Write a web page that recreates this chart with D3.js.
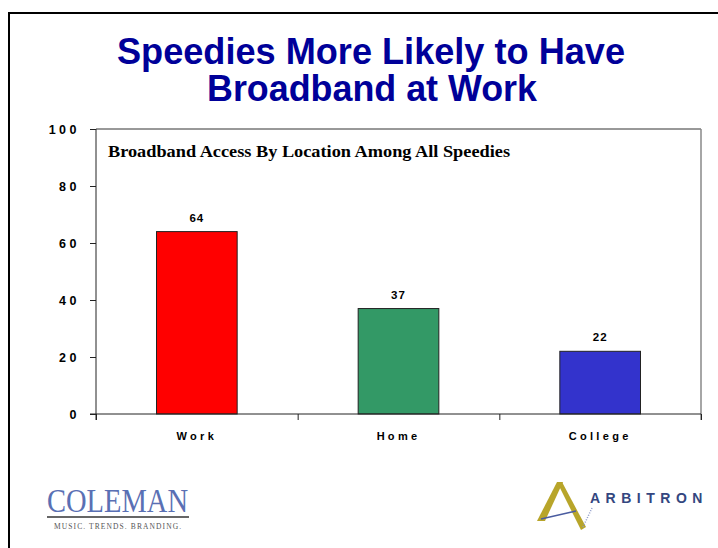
<!DOCTYPE html>
<html>
<head>
<meta charset="utf-8">
<script src="https://cdn.jsdelivr.net/npm/d3@7"></script>
<style>
  body { margin: 0; background: #fff; }
  svg { display: block; }
  .tick text { font-family: "Liberation Sans", Arial, sans-serif; font-weight: bold; fill: #000; }
</style>
</head>
<body>
<div id="chart"></div>
<script>
const categories = ["Work", "Home", "College"];
const values = [64, 37, 22];
const barColors = ["#ff0000", "#339966", "#3333cc"];
const yTicks = [0, 20, 40, 60, 80, 100];

const width = 718;
const height = 548;

const svg = d3.select("#chart")
              .append("svg")
              .attr("width", width)
              .attr("height", height);

// outer frame
svg.append("path")
   .attr("d", "M9,548 V13 H718")
   .attr("fill", "none")
   .attr("stroke", "#000")
   .attr("stroke-width", 2);

// Titles (squeezed to mimic the narrow bold face)
const title = svg.append("text")
                 .attr("text-anchor", "middle")
                 .attr("fill", "#000099")
                 .style("font-family", "'Liberation Sans Narrow', 'Liberation Sans', Arial, sans-serif")
                 .style("font-weight", "bold")
                 .style("font-size", "36px");
title.append("tspan").attr("x", 371).attr("y", 64)
     .attr("textLength", 508).attr("lengthAdjust", "spacingAndGlyphs")
     .text("Speedies More Likely to Have");
title.append("tspan").attr("x", 372).attr("y", 101)
     .attr("textLength", 330).attr("lengthAdjust", "spacingAndGlyphs")
     .text("Broadband at Work");

// plot area
const plotLeft = 96, plotRight = 701, plotTop = 129, plotBottom = 414;

const y = d3.scaleLinear()
            .domain([0, 100])
            .range([plotBottom, plotTop]);

const x = d3.scaleBand()
            .domain(categories)
            .range([plotLeft, plotRight])
            .paddingInner(0.6)
            .paddingOuter(0.3);

const xEdge = d3.scaleLinear()
                .domain([0, categories.length])
                .range([plotLeft, plotRight]);

// top + right border of plot
svg.append("line")
   .attr("x1", plotLeft).attr("x2", plotRight)
   .attr("y1", plotTop).attr("y2", plotTop)
   .attr("stroke", "#333");
svg.append("line")
   .attr("x1", plotRight).attr("x2", plotRight)
   .attr("y1", plotTop).attr("y2", plotBottom + 6)
   .attr("stroke", "#888").attr("stroke-width", 1.5);

svg.append("text")
   .attr("x", 108)
   .attr("y", 157)
   .style("font-family", "'Liberation Serif', 'Times New Roman', serif")
   .style("font-weight", "bold")
   .style("font-size", "17px")
   .attr("textLength", 402)
   .attr("lengthAdjust", "spacingAndGlyphs")
   .text("Broadband Access By Location Among All Speedies");

// bars
svg.selectAll("rect.bar")
   .data(values)
   .enter()
   .append("rect")
   .attr("class", "bar")
   .attr("x", (d, i) => x(categories[i]))
   .attr("y", d => y(d))
   .attr("width", x.bandwidth())
   .attr("height", d => y(0) - y(d))
   .attr("fill", (d, i) => barColors[i])
   .attr("stroke", "#222")
   .attr("stroke-width", 1);

svg.selectAll("text.val")
   .data(values)
   .enter()
   .append("text")
   .attr("class", "val")
   .attr("x", (d, i) => x(categories[i]) + x.bandwidth() / 2)
   .attr("y", d => y(d) - 10)
   .attr("text-anchor", "middle")
   .style("font-family", "'Liberation Sans', Arial, sans-serif")
   .style("font-weight", "bold")
   .style("font-size", "11.5px")
   .style("letter-spacing", "1px")
   .text(d => d);

// axes
const yAxis = d3.axisLeft(y).tickValues(yTicks).tickSize(6).tickPadding(10);
const gy = svg.append("g")
              .attr("transform", "translate(" + plotLeft + ",0)")
              .call(yAxis);
gy.select(".domain").attr("stroke", "#222").attr("d", "M0," + plotTop + "V" + (plotBottom + 6));
gy.selectAll(".tick line").attr("stroke", "#222");
gy.selectAll(".tick text")
  .style("font-size", "12.5px")
  .style("letter-spacing", "3.5px");

const gx = svg.append("g")
              .attr("transform", "translate(0," + plotBottom + ")")
              .call(d3.axisBottom(xEdge).tickValues([0, 1, 2, 3]).tickSize(6).tickFormat(""));
gx.select(".domain").attr("stroke", "#222").attr("d", "M" + (plotLeft - 6) + ",0H" + plotRight);
gx.selectAll(".tick line").attr("stroke", "#222");

const gxl = svg.append("g")
               .attr("transform", "translate(0," + plotBottom + ")")
               .call(d3.axisBottom(x).tickSize(0).tickPadding(18));
gxl.select(".domain").remove();
gxl.selectAll(".tick text")
   .style("font-size", "11px")
   .style("letter-spacing", "3.3px");

// COLEMAN logo
svg.append("text")
   .attr("x", 47).attr("y", 512)
   .attr("fill", "#5a70b4")
   .style("font-family", "'Liberation Serif', 'Times New Roman', serif")
   .style("font-size", "34px")
   .attr("textLength", 141)
   .attr("lengthAdjust", "spacingAndGlyphs")
   .text("COLEMAN");
svg.append("line")
   .attr("x1", 47).attr("x2", 189)
   .attr("y1", 517).attr("y2", 517)
   .attr("stroke", "#333").attr("stroke-width", 1.5);
svg.append("text")
   .attr("x", 54).attr("y", 529)
   .attr("fill", "#555")
   .style("font-family", "'Liberation Serif', 'Times New Roman', serif")
   .style("font-size", "7.5px")
   .style("letter-spacing", "1.1px")
   .text("MUSIC.  TRENDS.  BRANDING.");

// ARBITRON logo
svg.append("path")
   .attr("d", "M557,482 L563,482 L545,521 L537,521 Z")
   .attr("fill", "#b8a52a");
svg.append("path")
   .attr("d", "M557,482 L562,482 L586,527 L581,530 Z")
   .attr("fill", "#b8a52a");
svg.append("path")
   .attr("d", "M541,519 L576,511")
   .attr("stroke", "#4a5ca0").attr("stroke-width", 1.5);
svg.append("path")
   .attr("d", "M583,527 L592,508")
   .attr("stroke", "#8d9ac8").attr("stroke-width", 1.5).attr("stroke-dasharray", "1,1.5");
svg.append("text")
   .attr("x", 590).attr("y", 503)
   .attr("fill", "#34467f")
   .style("font-family", "'Liberation Sans', Arial, sans-serif")
   .style("font-weight", "bold")
   .style("font-size", "14px")
   .style("letter-spacing", "5.5px")
   .text("ARBITRON");
</script>
</body>
</html>
